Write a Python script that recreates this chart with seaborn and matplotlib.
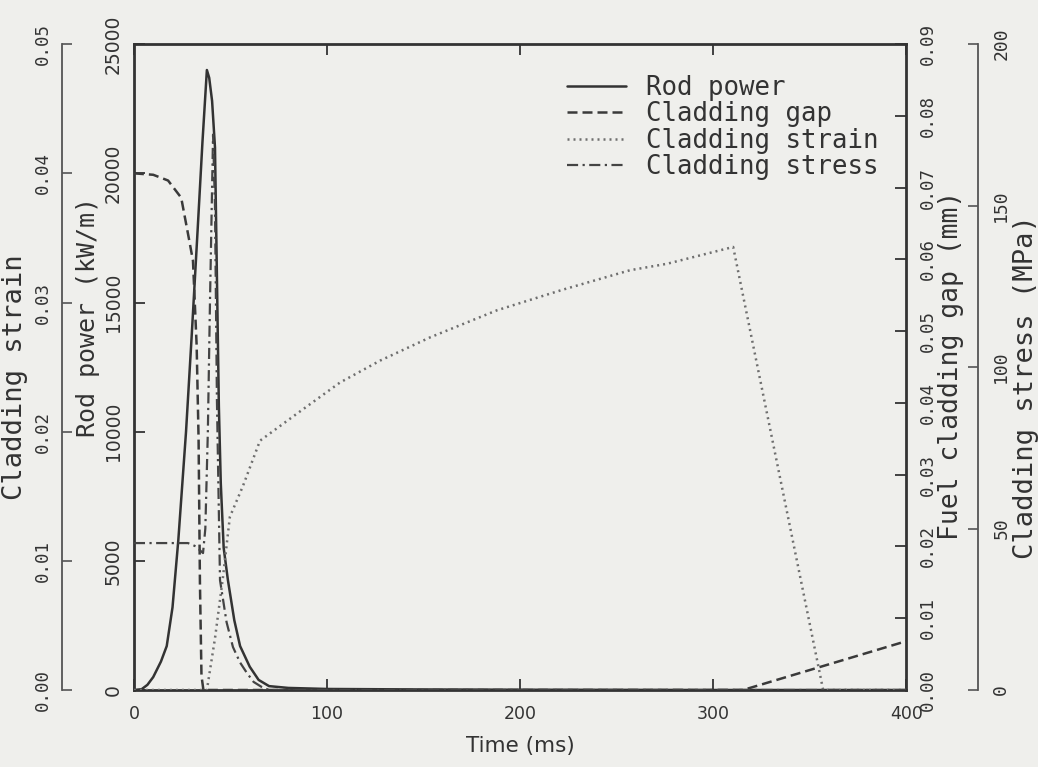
import numpy as np
import pandas as pd
import matplotlib
matplotlib.use("Agg")
import matplotlib.pyplot as plt
import seaborn as sns
from matplotlib.lines import Line2D

# ---------------- data ----------------
t_power = [0, 4, 7, 10, 14, 17, 20, 23, 27, 30, 33, 35.5, 37.8, 39, 40.5, 42, 43,
           44, 45, 46.5, 48.7, 52, 55, 60, 64.6, 70, 80, 100, 150, 200, 300, 400]
rod_power = [0, 30, 200, 500, 1100, 1700, 3200, 5800, 10000, 13800, 17800, 21200,
             24000, 23700, 22800, 21000, 16000, 11000, 8000, 5500, 4250, 2700, 1700,
             900, 390, 150, 80, 40, 20, 10, 0, 0]

t_gap = [0, 10, 17.7, 24.5, 28.7, 30.6, 32.5, 33.5, 34.2, 35, 36, 100, 200, 315.5, 400]
cladding_gap = [0.072, 0.0718, 0.071, 0.0686, 0.0626, 0.0598, 0.048, 0.035, 0.015,
                0.002, 0.0, 0.0, 0.0, 0.0, 0.0068]

t_strain = [0, 37.8, 42, 46.1, 49.7, 56.5, 65.3, 84.5, 106.7, 127.5, 153.4, 188.1,
            222.3, 257, 276.2, 310.4, 357, 400]
cladding_strain = [0.0, 0.0, 0.004, 0.0087, 0.0134, 0.0158, 0.0193, 0.0214, 0.0238,
                   0.0255, 0.0273, 0.0294, 0.0310, 0.0325, 0.0330, 0.0343, 0.0, 0.0]

t_stress = [0, 28, 32, 35.8, 37, 38.3, 39.4, 41, 42, 43, 44.6, 48, 51.3, 55, 58.5,
            62, 66, 70, 400]
cladding_stress = [45.5, 45.5, 44.5, 42.4, 50, 80, 120, 172, 150, 90, 34, 21, 13.3,
                   8.5, 5.3, 2.5, 1, 0, 0]

x_ticks = [0, 100, 200, 300, 400]
power_ticks = [0, 5000, 10000, 15000, 20000, 25000]
strain_ticks = [0.00, 0.01, 0.02, 0.03, 0.04, 0.05]
gap_ticks = [0.00, 0.01, 0.02, 0.03, 0.04, 0.05, 0.06, 0.07, 0.08, 0.09]
stress_ticks = [0, 50, 100, 150, 200]

series_names = ["Rod power", "Cladding gap", "Cladding strain", "Cladding stress"]

# ---------------- style ----------------
sns.set_theme(style="white")
MONO = ["DejaVu Sans Mono", "DejaVu Sans"]
SANS = ["DejaVu Sans"]
plt.rcParams["font.family"] = MONO

BG = "#efefec"
INK = "#333333"
GREY = "#555555"

fig = plt.figure(figsize=(10.38, 7.67), dpi=100, facecolor=BG)
ax = fig.add_axes([0.129, 0.1004, 0.744, 0.842])
ax.set_facecolor(BG)
ax_gap = ax.twinx()
ax_strain = ax.twinx()
ax_stress = ax.twinx()

# spine placement first (moving a spine resets its ticks)
for side in ["right", "bottom", "top"]:
    ax_strain.spines[side].set_visible(False)
ax_strain.spines["left"].set_visible(True)
ax_strain.spines["left"].set_position(("outward", 52))
ax_strain.yaxis.set_ticks_position("left")
ax_strain.yaxis.set_label_position("left")

for side in ["left", "bottom", "top"]:
    ax_stress.spines[side].set_visible(False)
ax_stress.spines["right"].set_visible(True)
ax_stress.spines["right"].set_position(("outward", 52))

for side in ["left", "bottom", "top"]:
    ax_gap.spines[side].set_visible(False)

ls_power = "-"
ls_gap = (0, (4, 2))
ls_strain = (0, (0.8, 1.6))
ls_stress = (0, (5, 2, 1, 2))

sns.lineplot(x=t_power, y=rod_power, ax=ax, color=INK, lw=1.8, linestyle=ls_power,
             estimator=None, sort=False)
sns.lineplot(x=t_gap, y=cladding_gap, ax=ax_gap, color="#3a3a3a", lw=1.8,
             linestyle=ls_gap, estimator=None, sort=False)
sns.lineplot(x=t_strain, y=cladding_strain, ax=ax_strain, color="#6e6e6e", lw=1.8,
             linestyle=ls_strain, estimator=None, sort=False)
sns.lineplot(x=t_stress, y=cladding_stress, ax=ax_stress, color="#444444", lw=1.6,
             linestyle=ls_stress, estimator=None, sort=False)

# ---------------- main axis ----------------
ax.set_xlim(0, 400)
ax.set_ylim(0, 25000)
ax.set_xticks(x_ticks)
ax.set_xticklabels([str(v) for v in x_ticks], family=SANS, fontsize=12.5, color=INK)
ax.set_yticks(power_ticks)
ax.set_yticklabels([str(v) for v in power_ticks], family=SANS, fontsize=13.5,
                   color=INK, rotation=90, va="center")
ax.tick_params(axis="x", direction="in", length=8, width=1.3, top=True, bottom=True,
               labeltop=False, pad=11, color=INK)
ax.tick_params(axis="y", direction="in", length=8, width=1.3, left=True, right=False,
               pad=8, color=INK)
for side in ["left", "bottom", "top"]:
    ax.spines[side].set_visible(True)
    ax.spines[side].set_color(INK)
    ax.spines[side].set_linewidth(2.0)
ax.spines["right"].set_visible(False)
ax.set_xlabel("Time (ms)", family=SANS, fontsize=15.5, color=INK, labelpad=9)
ax.set_ylabel("Rod power (kW/m)", fontsize=18, color=INK, va="center")
ax.yaxis.set_label_coords(-0.0596, 0.577)

# ---------------- gap axis (right, on frame) ----------------
ax_gap.set_ylim(0, 0.09)
ax_gap.set_yticks(gap_ticks)
ax_gap.set_yticklabels([f"{v:.2f}" for v in gap_ticks], fontsize=12.5, color=INK,
                       rotation=90, va="center")
ax_gap.tick_params(axis="y", direction="in", length=8, width=1.3, right=True, left=False,
                   pad=9, color=INK)
ax_gap.spines["right"].set_visible(True)
ax_gap.spines["right"].set_color(INK)
ax_gap.spines["right"].set_linewidth(2.0)
ax_gap.set_ylabel("Fuel cladding gap (mm)", fontsize=19, color=INK, va="center",
                  rotation=90)
ax_gap.yaxis.set_label_coords(1.058, 0.503)

# ---------------- strain axis (left, outward) ----------------
ax_strain.set_ylim(0, 0.05)
ax_strain.set_yticks(strain_ticks)
ax_strain.set_yticklabels([f"{v:.2f}" for v in strain_ticks], fontsize=12.5, color=INK,
                          rotation=90, va="center")
ax_strain.tick_params(axis="y", direction="in", length=7, width=1.2, left=True,
                      right=False, labelleft=True, labelright=False, pad=7, color=GREY)
ax_strain.spines["left"].set_color(GREY)
ax_strain.spines["left"].set_linewidth(1.3)
ax_strain.set_ylabel("Cladding strain", fontsize=19.5, color=INK, va="center")
ax_strain.yaxis.set_label_coords(-0.154, 0.484)

# ---------------- stress axis (right, outward) ----------------
ax_stress.set_ylim(0, 200)
ax_stress.set_yticks(stress_ticks)
ax_stress.set_yticklabels([str(v) for v in stress_ticks], fontsize=13, color=INK,
                          rotation=90, va="center")
ax_stress.tick_params(axis="y", direction="in", length=7, width=1.2, right=True,
                      left=False, pad=10, color=GREY)
ax_stress.spines["right"].set_color(GREY)
ax_stress.spines["right"].set_linewidth(1.3)
ax_stress.set_ylabel("Cladding stress (MPa)", fontsize=19.5, color=INK, va="center",
                     rotation=90)
ax_stress.yaxis.set_label_coords(1.155, 0.469)

for a in (ax_gap, ax_strain, ax_stress):
    a.set_xlim(0, 400)
    a.set_xlabel("")
    a.grid(False)
ax.grid(False)

# ---------------- legend ----------------
handles = [
    Line2D([], [], color=INK, lw=1.8, linestyle=ls_power),
    Line2D([], [], color="#3a3a3a", lw=1.8, linestyle=ls_gap),
    Line2D([], [], color="#6e6e6e", lw=1.8, linestyle=ls_strain),
    Line2D([], [], color="#444444", lw=1.6, linestyle=ls_stress),
]
leg = ax_stress.legend(handles, series_names, loc="upper left",
                       bbox_to_anchor=(0.561, 0.953), frameon=False, fontsize=18.5,
                       handlelength=2.3, handletextpad=0.75, labelspacing=0.02,
                       borderpad=0, borderaxespad=0)
for txt in leg.get_texts():
    txt.set_color(INK)

fig.savefig("out.png", dpi=100, facecolor=BG)
